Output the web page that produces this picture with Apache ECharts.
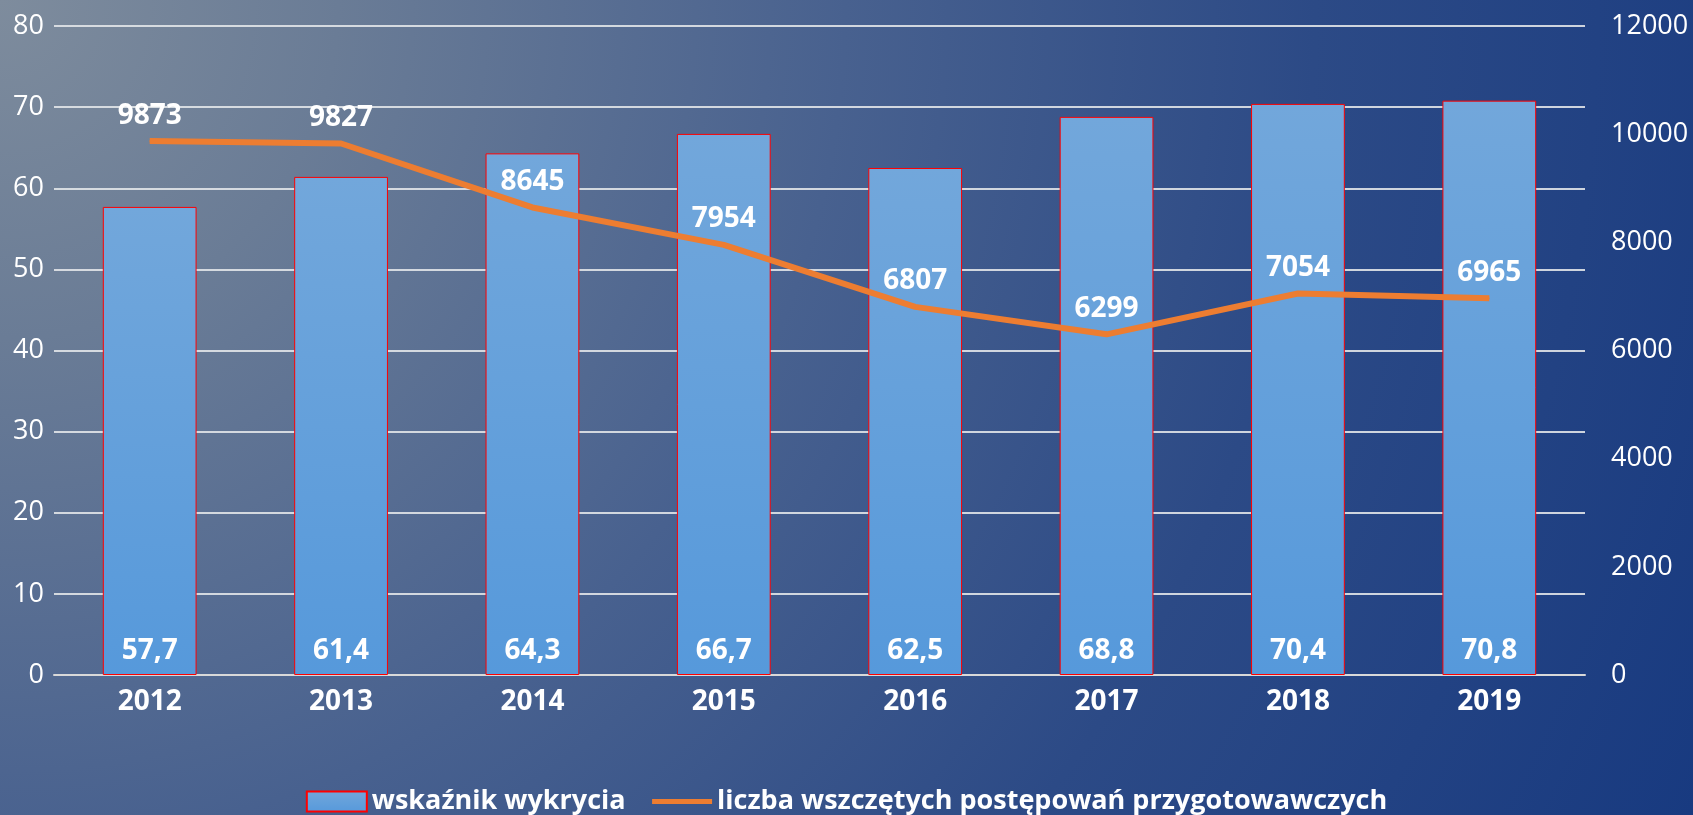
<!DOCTYPE html>
<html>
<head>
<meta charset="utf-8">
<script src="https://cdn.jsdelivr.net/npm/echarts@6/dist/echarts.min.js"></script>
<style>
  html, body { margin: 0; padding: 0; }
  #chart {
    width: 1693px; height: 815px;
    background: radial-gradient(circle at 0% 0%, #7e8c9d 0%, #6a7c96 18%, #48618f 45%, #2c4a86 70%, #183a80 100%);
  }
</style>
</head>
<body>
<div id="chart"></div>
<script>
var years = ['2012', '2013', '2014', '2015', '2016', '2017', '2018', '2019']
var detection = [57.7, 61.4, 64.3, 66.7, 62.5, 68.8, 70.4, 70.8]
var proceedings = [9873, 9827, 8645, 7954, 6807, 6299, 7054, 6965]

var font = '"Open Sans", "Noto Sans", sans-serif'

var option = {
    textStyle: { fontFamily: font },
    animation: false,
    grid: {
        left: 54,
        right: 108,
        top: 26,
        bottom: 140
    },
    legend: {
        top: 783,
        left: 'center',
        itemWidth: 60,
        itemHeight: 20,
        itemGap: 24,
        textStyle: {
            color: '#fff',
            fontSize: 27,
            fontWeight: 'bold',
            fontFamily: font
        },
        data: [
            { name: 'wskaźnik wykrycia', icon: 'rect' },
            {
                name: 'liczba wszczętych postępowań przygotowawczych',
                itemStyle: { opacity: 0 },
                lineStyle: { width: 5 }
            }
        ]
    },
    xAxis: {
        type: 'category',
        data: years,
        axisTick: { show: false },
        axisLine: { lineStyle: { color: '#d9d9d9', width: 2 } },
        axisLabel: {
            color: '#fff',
            fontSize: 28,
            fontWeight: 'bold',
            margin: 13
        }
    },
    yAxis: [
        {
            type: 'value',
            min: 0,
            max: 80,
            interval: 10,
            axisLine: { show: false },
            axisTick: { show: false },
            axisLabel: { color: '#fff', fontSize: 27, margin: 10 },
            splitLine: { lineStyle: { color: 'rgba(225,228,232,0.9)', width: 2 } }
        },
        {
            type: 'value',
            min: 0,
            max: 12000,
            interval: 2000,
            axisLine: { show: false },
            axisTick: { show: false },
            axisLabel: {
                color: '#fff',
                fontSize: 27,
                margin: 26,
                formatter: function (v) { return String(v) }
            },
            splitLine: { show: false }
        }
    ],
    series: [
        {
            name: 'wskaźnik wykrycia',
            type: 'bar',
            data: detection,
            barWidth: '49%',
            itemStyle: {
                color: {
                    type: 'linear', x: 0, y: 0, x2: 0, y2: 1,
                    colorStops: [
                        { offset: 0, color: '#72a7db' },
                        { offset: 1, color: '#5699db' }
                    ]
                },
                borderColor: '#ff0000',
                borderWidth: 1
            },
            label: {
                show: true,
                position: 'insideBottom',
                distance: 10,
                color: '#fff',
                fontSize: 28,
                fontWeight: 'bold',
                formatter: function (p) {
                    return p.value.toFixed(1).replace('.', ',')
                }
            }
        },
        {
            name: 'liczba wszczętych postępowań przygotowawczych',
            type: 'line',
            yAxisIndex: 1,
            data: proceedings,
            symbol: 'circle',
            symbolSize: 1,
            lineStyle: { color: '#ed7d31', width: 6 },
            itemStyle: { color: '#ed7d31' },
            label: {
                show: true,
                position: 'top',
                distance: 11,
                color: '#fff',
                fontSize: 28,
                fontWeight: 'bold'
            }
        }
    ]
}

var myChart = echarts.init(document.getElementById('chart'))
myChart.setOption(option)
</script>
</body>
</html>
